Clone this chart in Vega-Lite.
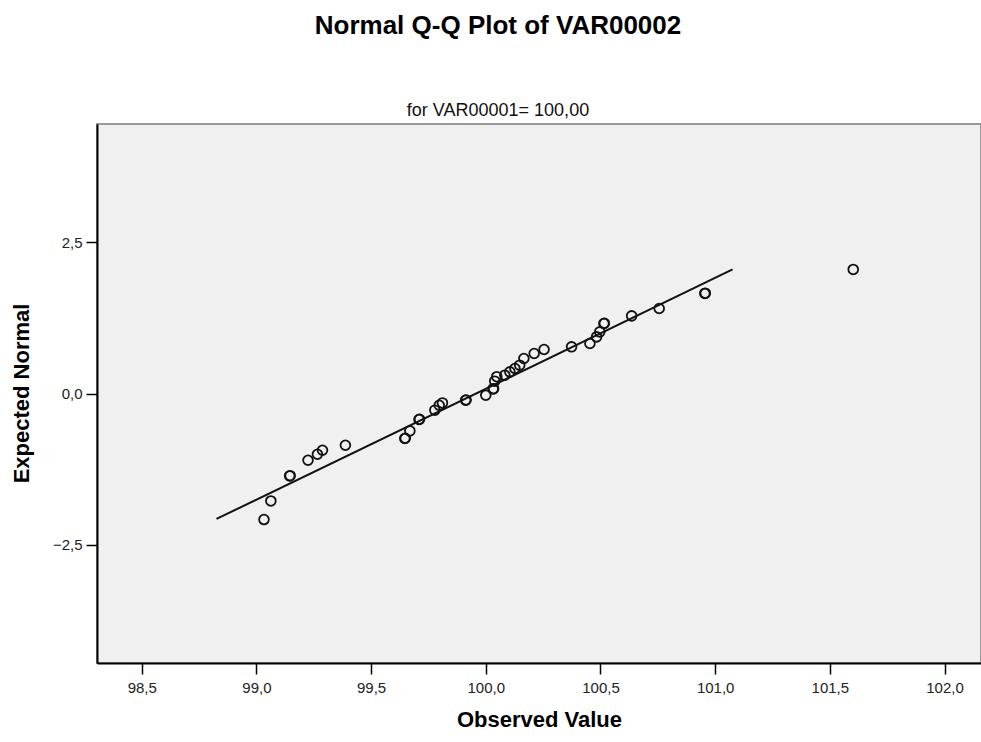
{
  "$schema": "https://vega.github.io/schema/vega-lite/v6.json",
  "width": 884,
  "height": 539,
  "autosize": {"type": "none"},
  "padding": {"left": 97, "top": 124, "right": 0, "bottom": 79},
  "background": "#ffffff",
  "config": {
    "font": "Liberation Sans",
    "view": {"fill": "#f0f0f0", "stroke": "#9a9a9a", "strokeWidth": 2},
    "axis": {
      "grid": false,
      "domainColor": "#000000",
      "domainWidth": 2,
      "tickColor": "#000000",
      "tickWidth": 1.5,
      "tickSize": 11,
      "labelFont": "Liberation Sans",
      "labelFontSize": 15,
      "labelColor": "#222222",
      "titleFont": "Liberation Sans",
      "titleFontSize": 22,
      "titleFontWeight": "bold",
      "titleColor": "#000000"
    }
  },
  "title": {
    "text": "Normal Q-Q Plot of VAR00002",
    "subtitle": "for VAR00001= 100,00",
    "anchor": "middle",
    "frame": "group",
    "dx": -41,
    "fontSize": 26,
    "fontWeight": "bold",
    "font": "Liberation Sans",
    "color": "#000000",
    "subtitleFont": "Liberation Sans",
    "subtitleFontSize": 18,
    "subtitleColor": "#111111",
    "subtitlePadding": 63,
    "offset": 4
  },
  "datasets": {
    "points": [
      {"observed": 99.033, "expected": -2.086},
      {"observed": 99.063, "expected": -1.778},
      {"observed": 99.145, "expected": -1.364},
      {"observed": 99.147, "expected": -1.360},
      {"observed": 99.225, "expected": -1.104},
      {"observed": 99.266, "expected": -1.005},
      {"observed": 99.288, "expected": -0.939},
      {"observed": 99.388, "expected": -0.856},
      {"observed": 99.647, "expected": -0.745},
      {"observed": 99.649, "expected": -0.741},
      {"observed": 99.669, "expected": -0.619},
      {"observed": 99.709, "expected": -0.430},
      {"observed": 99.711, "expected": -0.426},
      {"observed": 99.778, "expected": -0.276},
      {"observed": 99.797, "expected": -0.194},
      {"observed": 99.811, "expected": -0.156},
      {"observed": 99.912, "expected": -0.111},
      {"observed": 99.914, "expected": -0.108},
      {"observed": 100.000, "expected": -0.028},
      {"observed": 100.032, "expected": 0.076},
      {"observed": 100.034, "expected": 0.080},
      {"observed": 100.039, "expected": 0.204},
      {"observed": 100.048, "expected": 0.278},
      {"observed": 100.083, "expected": 0.303},
      {"observed": 100.105, "expected": 0.358},
      {"observed": 100.127, "expected": 0.414},
      {"observed": 100.148, "expected": 0.469},
      {"observed": 100.166, "expected": 0.579},
      {"observed": 100.211, "expected": 0.662},
      {"observed": 100.254, "expected": 0.728},
      {"observed": 100.374, "expected": 0.772},
      {"observed": 100.454, "expected": 0.828},
      {"observed": 100.483, "expected": 0.937},
      {"observed": 100.497, "expected": 1.020},
      {"observed": 100.515, "expected": 1.159},
      {"observed": 100.517, "expected": 1.163},
      {"observed": 100.636, "expected": 1.285},
      {"observed": 100.756, "expected": 1.407},
      {"observed": 100.955, "expected": 1.656},
      {"observed": 100.957, "expected": 1.660},
      {"observed": 101.602, "expected": 2.053}
    ],
    "line": [
      {"observed": 98.826, "expected": -2.076},
      {"observed": 101.076, "expected": 2.053}
    ]
  },
  "layer": [
    {
      "data": {"name": "line"},
      "mark": {"type": "line", "color": "#111111", "strokeWidth": 2, "clip": true},
      "encoding": {
        "x": {"field": "observed", "type": "quantitative"},
        "y": {"field": "expected", "type": "quantitative"}
      }
    },
    {
      "data": {"name": "points"},
      "mark": {"type": "point", "shape": "circle", "filled": false, "size": 95, "stroke": "#111111", "strokeWidth": 1.8, "opacity": 1},
      "encoding": {
        "x": {
          "field": "observed",
          "type": "quantitative",
          "scale": {"domain": [98.305, 102.159], "nice": false, "zero": false},
          "axis": {
            "title": "Observed Value",
            "values": [98.5, 99, 99.5, 100, 100.5, 101, 101.5, 102],
            "labelExpr": "replace(format(datum.value, '.1f'), '.', ',')",
            "labelPadding": 6,
            "titleY": 56,
            "titleBaseline": "middle"
          }
        },
        "y": {
          "field": "expected",
          "type": "quantitative",
          "scale": {"domain": [-4.46, 4.46], "nice": false, "zero": false},
          "axis": {
            "title": "Expected Normal",
            "values": [-2.5, 0, 2.5],
            "labelExpr": "replace(format(datum.value, '.1f'), '.', ',')",
            "labelPadding": 4,
            "titleX": -76,
            "titleY": 269,
            "titleAngle": -90,
            "titleBaseline": "middle",
            "titleAlign": "center"
          }
        }
      }
    }
  ]
}
